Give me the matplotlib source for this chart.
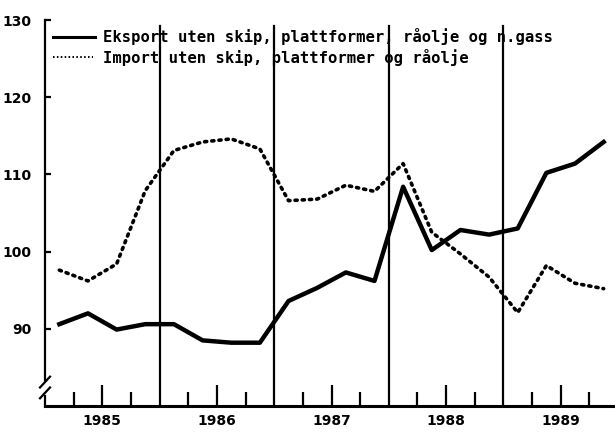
import matplotlib
matplotlib.use('Agg')
import matplotlib.pyplot as plt
import numpy as np

# quarterly index, 1985 Q1 .. 1989 Q4
years = [1985, 1986, 1987, 1988, 1989]
eksport = [90.6, 92.0, 89.9, 90.6,
           90.6, 88.5, 88.2, 88.2,
           93.6, 95.3, 97.3, 96.2,
           108.4, 100.2, 102.8, 102.2,
           103.0, 110.2, 111.4, 114.2]
importv = [97.6, 96.2, 98.4, 107.9,
           113.1, 114.2, 114.6, 113.3,
           106.6, 106.8, 108.6, 107.8,
           111.4, 102.5, 99.7, 96.7,
           92.1, 98.2, 95.9, 95.2]
yticks = [90, 100, 110, 120, 130]
label_eks = 'Eksport uten skip, plattformer, råolje og n.gass'
label_imp = 'Import uten skip, plattformer og råolje'

# quarter midpoints
x = np.array([y + (q + 0.5) / 4 for y in years for q in range(4)])

W, H = 615, 433
fig = plt.figure(figsize=(W / 100, H / 100), dpi=100)
ax = fig.add_axes([45 / W, 27 / H, 570 / W, 386 / H])
ax.set_xlim(1985, 1985 + 570 / 114.6)
ax.set_ylim(80, 130)

ax.plot(x, eksport, color='black', lw=3.2, solid_joinstyle='round')
ax.plot(x, importv, color='black', lw=2.6, linestyle=(0, (0.6, 1.4)),
        dash_capstyle='round')

# year separators
for y in years[1:]:
    ax.plot([y, y], [80, 129.2], color='black', lw=1.6)

# axes
for s in ['top', 'right']:
    ax.spines[s].set_visible(False)
ax.spines['bottom'].set_linewidth(2.2)
ax.spines['left'].set_linewidth(1.6)
ax.spines['left'].set_bounds(83.4, 130)
ax.plot([1985, 1985], [80, 81.3], color='black', lw=1.6, clip_on=False)
dx = 5 / 114.6
for y0 in [81.0, 82.4]:
    ax.plot([1985 - dx, 1985 + dx], [y0, y0 + 1.4], color='black', lw=1.6,
            clip_on=False)

tickfont = dict(family='DejaVu Sans', weight='bold', size=10)
ax.set_yticks(yticks)
ax.set_yticklabels([str(v) for v in yticks], **tickfont)
ax.tick_params(axis='y', direction='in', length=4, width=1.6, pad=10)

ax.set_xticks([y + 0.5 for y in years])
ax.set_xticklabels([str(y) for y in years], **tickfont)
ax.set_xticks([y + q for y in years for q in (0.25, 0.75)], minor=True)
ax.tick_params(axis='x', which='major', direction='in', length=15, width=1.6, pad=6)
ax.tick_params(axis='x', which='minor', direction='in', length=10, width=1.6)

# legend drawn by hand at the top left
lx0, lx1 = 1985 + 8 / 114.6, 1985 + 50 / 114.6
ax.plot([lx0, lx1], [127.8, 127.8], color='black', lw=2.2)
ax.plot([lx0, lx1 - 0.02], [125.2, 125.2], color='black', lw=1.4,
        linestyle=(0, (0.8, 1.2)))
legfont = dict(family='DejaVu Sans Mono', weight='bold', size=11.2)
tx = 1985 + 58 / 114.6
ax.text(tx, 127.8, label_eks, va='center', ha='left', **legfont)
ax.text(tx, 125.2, label_imp, va='center', ha='left', **legfont)

fig.savefig('out.png', dpi=100)
